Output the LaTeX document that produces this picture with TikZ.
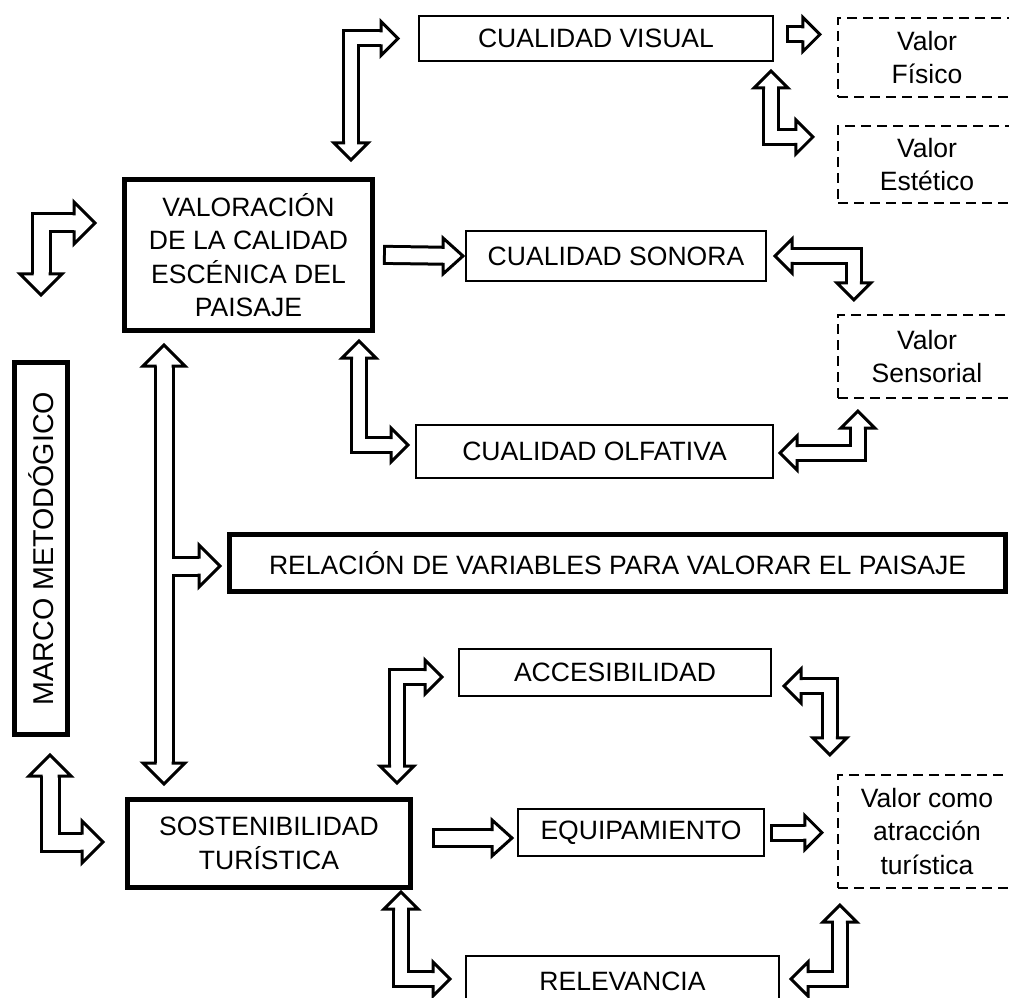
\documentclass[tikz,border=0pt]{standalone}
\usepackage{fontspec}
\setmainfont{Liberation Sans}
\usepackage{tikz}
\usetikzlibrary{calc}

\tikzset{
  box/.style={draw, line width=1.5pt, inner sep=0pt, align=center},
  thickbox/.style={box, line width=3.75pt},
  valbox/.style={box, line width=1.7pt, dash pattern=on 7.5pt off 4.5pt, minimum width=133.5pt},
  body/.style={draw=black, double=white, double distance=9pt, line width=2.25pt, line cap=rect, line join=miter},
  midbody/.style={body, double distance=10.5pt},
  bigbody/.style={body, double distance=11.25pt},
  oneway/.style={body, shorten >=12.75pt},
  midway/.style={midbody, shorten >=15pt},
  twoway/.style={body, shorten <=12.75pt, shorten >=12.75pt},
  bigtwoway/.style={bigbody, shorten <=15.75pt, shorten >=15.75pt},
  headline/.style={fill=white, draw=black, line width=2.25pt, line join=miter},
  pics/tip/.style={code={\filldraw[headline] (-17,6) -- (-17,17) -- (0,0) -- (-17,-17) -- (-17,-6);}},
  pics/midtip/.style={code={\filldraw[headline] (-20,7) -- (-20,18) -- (0,0) -- (-20,-18) -- (-20,-7);}},
  pics/bigtip/.style={code={\filldraw[headline] (-21,7.5) -- (-21,21) -- (0,0) -- (-21,-21) -- (-21,-7.5);}},
}

\begin{document}
\begin{tikzpicture}[x=0.75pt, y=-0.75pt, font=\fontsize{19.9}{25.1}\selectfont]
  \useasboundingbox (0,0) rectangle (1009,998);
  \clip (0,0) rectangle (1009,998);

  % boxes
  \node[box, minimum width=265.5pt, minimum height=33.75pt] (vis) at (596,38.5) {CUALIDAD VISUAL};
  \node[valbox, minimum height=59.25pt] (fis) at (927,57.5) {Valor\\Físico};
  \node[valbox, minimum height=57.75pt] (est) at (927,164.5) {Valor\\Estético};
  \node[thickbox, minimum width=186pt, minimum height=113.25pt] (val) at (248.5,255)
    {VALORACIÓN\\DE LA CALIDAD\\ESCÉNICA DEL\\PAISAJE};
  \node[box, minimum width=225pt, minimum height=37.5pt] (son) at (616,256) {CUALIDAD SONORA};
  \node[valbox, minimum height=62.25pt] (sen) at (927,356.5) {Valor\\Sensorial};
  \node[box, minimum width=267.75pt, minimum height=39.75pt] (olf) at (594.5,451.5) {CUALIDAD OLFATIVA};
  \node[thickbox, minimum width=582pt, minimum height=42.75pt] (rel) at (617.5,563)
    {RELACIÓN DE VARIABLES PARA VALORAR EL PAISAJE};
  \node[thickbox, rotate=90, minimum width=279pt, minimum height=39.75pt,
    font=\fontsize{21.5}{25.1}\selectfont] (marco) at (41,548.5) {MARCO METODÓGICO};
  \node[box, minimum width=234pt, minimum height=35.25pt] (acc) at (615,672.5) {ACCESIBILIDAD};
  \node[thickbox, minimum width=212.25pt, minimum height=66pt] (sos) at (269,843.5)
    {SOSTENIBILIDAD\\TURÍSTICA};
  \node[box, minimum width=184.5pt, minimum height=35.25pt] (equ) at (641,832.5) {EQUIPAMIENTO};
  \node[valbox, minimum height=84.75pt] (atr) at (927,831.5) {Valor como\\atracción\\turística};
  \node[box, minimum width=234.75pt, minimum height=37.5pt] (rlv) at (622.5,981) {RELEVANCIA};

  % arrow ends
  \coordinate (p1) at ($(val.north)+(102.5,-17)$);
  \coordinate (q1) at ($(vis.west)+(-20,0)$);
  \coordinate (p2) at ($(vis.east)+(21,-4)$);
  \coordinate (q2) at ($(p2 -| fis.west)+(-17,0)$);
  \coordinate (p3) at ($(vis.south east)+(-3,9)$);
  \coordinate (q3) at ($(est.west)+(-24,-27.5)$);
  \coordinate (p4) at ($(marco.east)+(0,-65)$);
  \coordinate (q4) at ($(val.west)+(-27,-32)$);
  \coordinate (p5) at ($(val.south west)+(42,12)$);
  \coordinate (q5) at ($(sos.north west)+(39,-13)$);
  \coordinate (r5) at ($(rel.west)+(-7,3)$);
  \coordinate (p6) at ($(val.east)+(18,0)$);
  \coordinate (q6) at ($(son.west)+(-2,0)$);
  \coordinate (p7) at ($(son.east)+(8,0)$);
  \coordinate (q7) at ($(sen.north west)+(17,-14)$);
  \coordinate (p8) at ($(sen.south west)+(21,12)$);
  \coordinate (q8) at ($(olf.east)+(6,1.5)$);
  \coordinate (p9) at ($(val.south east)+(-16,8)$);
  \coordinate (q9) at ($(olf.west)+(-7,-6.5)$);
  \coordinate (p10) at ($(marco.west)+(9,18)$);
  \coordinate (q10) at ($(sos.west)+(-22,-1.5)$);
  \coordinate (p11) at ($(sos.north east)+(-16,-14)$);
  \coordinate (q11) at ($(acc.west)+(-16,4.5)$);
  \coordinate (p12) at ($(acc.east)+(12,13.5)$);
  \coordinate (q12) at ($(atr.north west)+(-7,-19)$);
  \coordinate (p13) at ($(equ.east)+(14,0)$);
  \coordinate (q13) at ($(atr.west)+(-15,1)$);
  \coordinate (p14) at ($(atr.south west)+(3,16)$);
  \coordinate (q14) at ($(rlv.east)+(11,-2)$);
  \coordinate (p15) at ($(sos.south east)+(-12,2)$);
  \coordinate (q15) at ($(rlv.west)+(-15,-2)$);
  \coordinate (p16) at ($(sos.east)+(29,-5.5)$);
  \coordinate (q16) at ($(equ.west)+(-5,5.5)$);

  % block arrows
  \draw[twoway] (p1) |- (q1);
  \pic[rotate=-90] at (p1) {tip};
  \pic at (q1) {tip};

  \draw[oneway] (p2) -- (q2);
  \pic at (q2) {tip};

  \draw[twoway] (p3) |- (q3);
  \pic[rotate=90] at (p3) {tip};
  \pic at (q3) {tip};

  \draw[bigtwoway] (p4) |- (q4);
  \pic[rotate=-90] at (p4) {bigtip};
  \pic at (q4) {bigtip};

  \draw[bigtwoway] (p5) -- (q5);
  \draw[bigbody, shorten >=15.75pt] (p5 |- r5) -- (r5);
  \draw[white, line width=11.25pt, shorten <=15.75pt, shorten >=15.75pt] (p5) -- (q5);
  \pic[rotate=90] at (p5) {bigtip};
  \pic[rotate=-90] at (q5) {bigtip};
  \pic at (r5) {bigtip};

  \draw[midway] (p6) -- (q6);
  \pic at (q6) {midtip};

  \draw[twoway] (p7) -| (q7);
  \pic[rotate=180] at (p7) {tip};
  \pic[rotate=-90] at (q7) {tip};

  \draw[twoway] (p8) |- (q8);
  \pic[rotate=90] at (p8) {tip};
  \pic[rotate=180] at (q8) {tip};

  \draw[twoway] (p9) |- (q9);
  \pic[rotate=90] at (p9) {tip};
  \pic at (q9) {tip};

  \draw[bigtwoway] (p10) |- (q10);
  \pic[rotate=90] at (p10) {bigtip};
  \pic at (q10) {bigtip};

  \draw[twoway] (p11) |- (q11);
  \pic[rotate=-90] at (p11) {tip};
  \pic at (q11) {tip};

  \draw[twoway] (p12) -| (q12);
  \pic[rotate=180] at (p12) {tip};
  \pic[rotate=-90] at (q12) {tip};

  \draw[oneway] (p13) -- (q13);
  \pic at (q13) {tip};

  \draw[twoway] (p14) |- (q14);
  \pic[rotate=90] at (p14) {tip};
  \pic[rotate=180] at (q14) {tip};

  \draw[twoway] (p15) |- (q15);
  \pic[rotate=90] at (p15) {tip};
  \pic at (q15) {tip};

  \draw[midway] (p16) -- (q16);
  \pic at (q16) {midtip};
\end{tikzpicture}
\end{document}
